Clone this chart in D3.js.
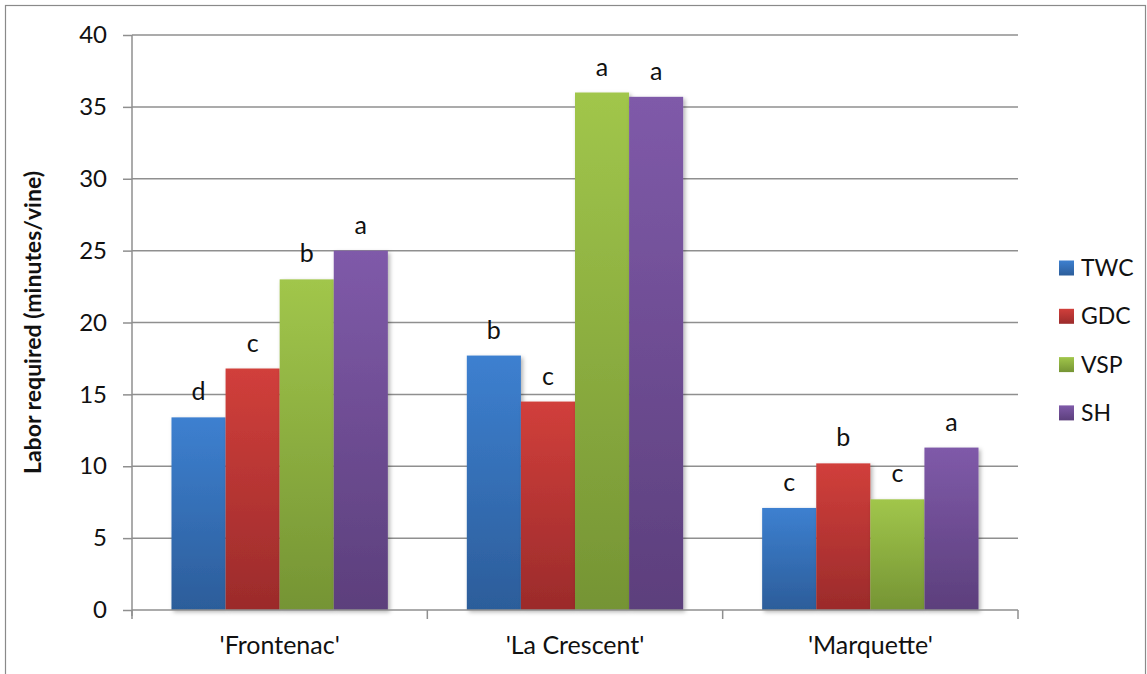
<!DOCTYPE html>
<html>
<head>
<meta charset="utf-8">
<script src="https://cdn.jsdelivr.net/npm/d3@7"></script>
<style>
  body { margin: 0; background: #fff; }
  text { font-family: Lato, "Open Sans", sans-serif; fill: #111; }
</style>
</head>
<body>
<div id="container"></div>
<script>
// data
var cultivars = ["'Frontenac'", "'La Crescent'", "'Marquette'"];
var series = ["TWC", "GDC", "VSP", "SH"];
var twc = [13.4, 17.7, 7.1];
var gdc = [16.8, 14.5, 10.2];
var vsp = [23.0, 36.0, 7.7];
var sh = [25.0, 35.7, 11.3];
var letters = {
  TWC: ["d", "b", "c"],
  GDC: ["c", "c", "b"],
  VSP: ["b", "a", "c"],
  SH: ["a", "a", "a"]
};
var yTicks = [0, 5, 10, 15, 20, 25, 30, 35, 40];

var values = { TWC: twc, GDC: gdc, VSP: vsp, SH: sh };
var colors = {
  TWC: ["#3d80d0", "#2c5d9a"],
  GDC: ["#d13f3b", "#9b2b2b"],
  VSP: ["#a1c64b", "#759434"],
  SH: ["#7f5aa9", "#5c3f7c"]
};

// note: "top" is taken by window.top, so plot edges get their own names
var width = 1147,
    height = 674,
    plotLeft = 132, plotRight = 1018, plotTop = 35, plotBottom = 610;

var svg = d3.select('#container').append('svg')
  .attr('width', width)
  .attr('height', height);

var defs = svg.append('defs');
series.forEach(function(s) {
  var g = defs.append('linearGradient')
    .attr('id', 'grad-' + s)
    .attr('x1', 0).attr('y1', 0).attr('x2', 0).attr('y2', 1);
  g.append('stop').attr('offset', '0%').attr('stop-color', colors[s][0]);
  g.append('stop').attr('offset', '100%').attr('stop-color', colors[s][1]);
});
var shadow = defs.append('filter').attr('id', 'shadow')
  .attr('x', '-10%').attr('y', '-10%').attr('width', '130%').attr('height', '130%');
shadow.append('feDropShadow')
  .attr('dx', 2).attr('dy', 2).attr('stdDeviation', 2)
  .attr('flood-color', '#000').attr('flood-opacity', 0.3);

// chart frame
svg.append('rect')
  .attr('x', 5.5).attr('y', 5.5)
  .attr('width', 1140).attr('height', 700)
  .attr('fill', 'none')
  .attr('stroke', '#8a8a8a')
  .attr('stroke-width', 1.2);

var yScale = d3.scaleLinear()
  .domain([0, 40])
  .range([plotBottom, plotTop]);

var xScale = d3.scaleBand()
  .domain(cultivars)
  .range([plotLeft, plotRight]);

var inner = d3.scaleBand()
  .domain(series)
  .range([0, xScale.bandwidth()])
  .paddingOuter(0.73);

// gridlines
svg.append('g')
  .selectAll('line').data(yTicks.filter(function(d) { return d > 0; }))
  .enter().append('line')
    .attr('x1', plotLeft).attr('x2', plotRight)
    .attr('y1', function(d) { return yScale(d); })
    .attr('y2', function(d) { return yScale(d); })
    .attr('stroke', '#8f8f8f')
    .attr('stroke-width', 1.5);

// y axis
var yAxis = svg.append('g')
  .attr('transform', 'translate(' + plotLeft + ',0)')
  .call(d3.axisLeft(yScale).tickValues(yTicks).tickSize(9).tickPadding(16));
yAxis.select('.domain').attr('stroke', '#8f8f8f').attr('stroke-width', 1.5)
  .attr('d', 'M0,' + plotTop + 'V' + (plotBottom + 6));
yAxis.selectAll('.tick line').attr('stroke', '#8f8f8f').attr('stroke-width', 1.5);
yAxis.selectAll('.tick text').style('font-size', '24px').attr('fill', '#111');

// bars
series.forEach(function(s) {
  svg.append('g')
    .selectAll('rect').data(values[s])
    .enter().append('rect')
      .attr('x', function(d, i) { return xScale(cultivars[i]) + inner(s); })
      .attr('y', function(d) { return yScale(d); })
      .attr('width', inner.bandwidth())
      .attr('height', function(d) { return plotBottom - yScale(d); })
      .attr('fill', 'url(#grad-' + s + ')')
      .attr('filter', 'url(#shadow)');

  svg.append('g')
    .selectAll('text').data(values[s])
    .enter().append('text')
      .attr('x', function(d, i) { return xScale(cultivars[i]) + inner(s) + inner.bandwidth() / 2; })
      .attr('y', function(d) { return yScale(d) - 17; })
      .attr('text-anchor', 'middle')
      .style('font-size', '25px')
      .text(function(d, i) { return letters[s][i]; });
});

// x axis
var xAxis = svg.append('g')
  .attr('transform', 'translate(0,' + plotBottom + ')')
  .call(d3.axisBottom(xScale).tickSize(0).tickPadding(26));
xAxis.select('.domain').remove();
xAxis.selectAll('.tick text').style('font-size', '25px').attr('fill', '#111');
xAxis.append('line')
  .attr('x1', plotLeft).attr('x2', plotRight)
  .attr('stroke', '#8f8f8f').attr('stroke-width', 1.5);
xAxis.selectAll('.sep').data(d3.range(cultivars.length + 1))
  .enter().append('line')
    .attr('x1', function(i) { return plotLeft + i * xScale.step(); })
    .attr('x2', function(i) { return plotLeft + i * xScale.step(); })
    .attr('y1', 0).attr('y2', 9)
    .attr('stroke', '#8f8f8f').attr('stroke-width', 1.5);

// y axis title
svg.append('text')
  .attr('transform', 'translate(41,' + ((plotTop + plotBottom) / 2) + ') rotate(-90)')
  .attr('text-anchor', 'middle')
  .style('font-size', '23px')
  .style('font-weight', 'bold')
  .text('Labor required (minutes/vine)');

// legend
var legend = svg.append('g')
  .selectAll('g').data(series)
  .enter().append('g')
    .attr('transform', function(d, i) { return 'translate(1059,' + (268 + i * 48.3) + ')'; });
legend.append('rect')
  .attr('x', 0).attr('y', -7.5)
  .attr('width', 15).attr('height', 15)
  .attr('fill', function(d) { return 'url(#grad-' + d + ')'; });
legend.append('text')
  .attr('x', 22).attr('y', 8)
  .style('font-size', '23px')
  .text(function(d) { return d; });
</script>
</body>
</html>
